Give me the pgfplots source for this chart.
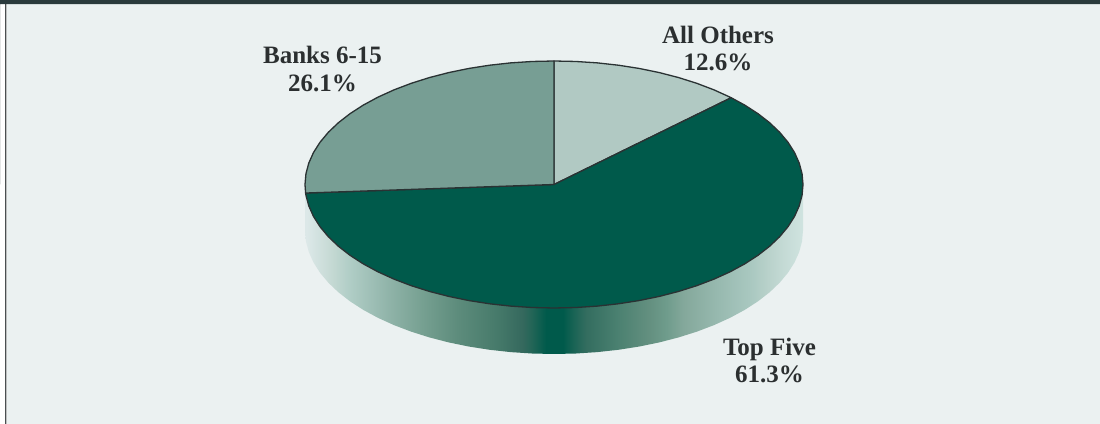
\documentclass[border=0pt]{standalone}
\usepackage{pgfplots}
\pgfplotsset{compat=1.18}
\usepackage{fontspec}
\setmainfont{Liberation Serif}

\definecolor{panel}{HTML}{EBF1F1}
\definecolor{rule}{HTML}{2A3A3C}
\definecolor{frameline}{HTML}{4A4F50}
\definecolor{ink}{HTML}{2B2F30}
\definecolor{outline}{HTML}{2A3233}
\definecolor{others}{HTML}{B1C9C3}
\definecolor{banks}{HTML}{779E94}
\definecolor{topfive}{HTML}{005A4B}

% Rim of the disc: light at both ends, deep green at the front.
\pgfdeclarehorizontalshading{rim}{100bp}{
  rgb(0bp)=(0.863,0.910,0.910);
  rgb(25.2bp)=(0.863,0.910,0.910);
  rgb(27.8bp)=(0.765,0.847,0.824);
  rgb(29.5bp)=(0.690,0.804,0.776);
  rgb(33.5bp)=(0.561,0.702,0.659);
  rgb(36.8bp)=(0.463,0.627,0.569);
  rgb(40.3bp)=(0.365,0.549,0.486);
  rgb(44.3bp)=(0.275,0.478,0.416);
  rgb(46.9bp)=(0.204,0.408,0.365);
  rgb(47.6bp)=(0.150,0.400,0.345);
  rgb(49.2bp)=(0,0.353,0.294);
  rgb(50.9bp)=(0,0.353,0.294);
  rgb(52.0bp)=(0.102,0.392,0.333);
  rgb(53.2bp)=(0.200,0.427,0.373);
  rgb(56.3bp)=(0.290,0.502,0.439);
  rgb(59.6bp)=(0.392,0.565,0.502);
  rgb(61.3bp)=(0.435,0.612,0.549);
  rgb(63bp)=(0.518,0.659,0.608);
  rgb(66.4bp)=(0.592,0.725,0.686);
  rgb(69.7bp)=(0.663,0.784,0.753);
  rgb(71.4bp)=(0.722,0.820,0.792);
  rgb(73bp)=(0.769,0.855,0.835);
  rgb(74.9bp)=(0.812,0.890,0.875);
  rgb(100bp)=(0.812,0.890,0.875)}

\begin{document}
\begin{tikzpicture}
\begin{axis}[
  scale only axis,
  width=1100bp, height=424bp,
  xmin=-2.22490, xmax=2.19277,
  ymin=-1.93927, ymax=1.49393,
  hide axis,
  clip=true,
]
% Page furniture
\addplot[draw=none, fill=white] coordinates {(-2.22490,-1.93927) (2.19277,-1.93927) (2.19277,1.49393) (-2.22490,1.49393)} \closedcycle;
\addplot[draw=none, fill=panel] coordinates {(-2.19680,-1.93927) (2.19277,-1.93927) (2.19277,1.46150) (-2.19680,1.46150)} \closedcycle;
\addplot[draw=none, fill=frameline] coordinates {(-2.20480,-1.93927) (-2.19880,-1.93927) (-2.19880,1.46150) (-2.20480,1.46150)} \closedcycle;
\addplot[draw=none, fill=rule] coordinates {(-2.22490,1.46150) (2.19277,1.46150) (2.19277,1.49393) (-2.22490,1.49393)} \closedcycle;

% Rim of the disc
\addplot[draw=none, shade, shading=rim] coordinates {
  (1,0) (1,-.3725) (.99619,-.45966) (.98481,-.54615) (.96593,-.63132) (.93969,-.71452)
  (.90631,-.79512) (.86603,-.8725) (.81915,-.94608) (.76604,-1.01529) (.70711,-1.07961)
  (.64279,-1.13854) (.57358,-1.19165) (.5,-1.23853) (.42262,-1.27881) (.34202,-1.31219)
  (.25882,-1.33843) (.17365,-1.35731) (.08716,-1.36869) (0,-1.3725)
  (-.08716,-1.36869) (-.17365,-1.35731) (-.25882,-1.33843) (-.34202,-1.31219) (-.42262,-1.27881)
  (-.5,-1.23853) (-.57358,-1.19165) (-.64279,-1.13854) (-.70711,-1.07961) (-.76604,-1.01529)
  (-.81915,-.94608) (-.86603,-.8725) (-.90631,-.79512) (-.93969,-.71452) (-.96593,-.63132)
  (-.98481,-.54615) (-.99619,-.45966) (-1,-.3725) (-1,0)
} -- cycle;

% All Others, 12.6 percent: 0 to 45.36 degrees clockwise from the top
\addplot[draw=outline, line width=1.3bp, line join=round, fill=others] coordinates {
  (0,0) (0,1) (.08716,.99619) (.17365,.98481) (.25882,.96593) (.34202,.93969)
  (.42262,.90631) (.5,.86603) (.57358,.81915) (.64279,.76604) (.70711,.70711) (.71155,.70267)
} -- cycle;

% Top Five, 61.3 percent: 45.36 to 266.04 degrees
\addplot[draw=outline, line width=1.3bp, line join=round, fill=topfive] coordinates {
  (0,0) (.71155,.70267) (.76604,.64279) (.81915,.57358) (.86603,.5) (.90631,.42262)
  (.93969,.34202) (.96593,.25882) (.98481,.17365) (.99619,.08716) (1,0)
  (.99619,-.08716) (.98481,-.17365) (.96593,-.25882) (.93969,-.34202) (.90631,-.42262)
  (.86603,-.5) (.81915,-.57358) (.76604,-.64279) (.70711,-.70711) (.64279,-.76604)
  (.57358,-.81915) (.5,-.86603) (.42262,-.90631) (.34202,-.93969) (.25882,-.96593)
  (.17365,-.98481) (.08716,-.99619) (0,-1)
  (-.08716,-.99619) (-.17365,-.98481) (-.25882,-.96593) (-.34202,-.93969) (-.42262,-.90631)
  (-.5,-.86603) (-.57358,-.81915) (-.64279,-.76604) (-.70711,-.70711) (-.76604,-.64279)
  (-.81915,-.57358) (-.86603,-.5) (-.90631,-.42262) (-.93969,-.34202) (-.96593,-.25882)
  (-.98481,-.17365) (-.99619,-.08716) (-.99761,-.06906)
} -- cycle;

% Banks 6-15, 26.1 percent: 266.04 to 360 degrees
\addplot[draw=outline, line width=1.3bp, line join=round, fill=banks] coordinates {
  (0,0) (-.99761,-.06906) (-1,0) (-.99619,.08716) (-.98481,.17365) (-.96593,.25882)
  (-.93969,.34202) (-.90631,.42262) (-.86603,.5) (-.81915,.57358) (-.76604,.64279)
  (-.70711,.70711) (-.64279,.76604) (-.57358,.81915) (-.5,.86603) (-.42262,.90631)
  (-.34202,.93969) (-.25882,.96593) (-.17365,.98481) (-.08716,.99619) (0,1)
} -- cycle;

% Slice labels
\tikzset{share/.style={anchor=base, inner sep=0pt, text=ink, font=\bfseries\fontsize{25bp}{28bp}\selectfont}}
\node[share] at (axis cs:-0.9297,0.9757) {Banks 6-15};
\node[share] at (axis cs:-0.9297,0.7490) {26.1\%};
\node[share] at (axis cs:0.6586,1.1457) {All Others};
\node[share] at (axis cs:0.6586,0.9190) {12.6\%};
\node[share] at (axis cs:0.8655,-1.3887) {Top Five};
\node[share] at (axis cs:0.8655,-1.6073) {61.3\%};
\end{axis}
\end{tikzpicture}
\end{document}
